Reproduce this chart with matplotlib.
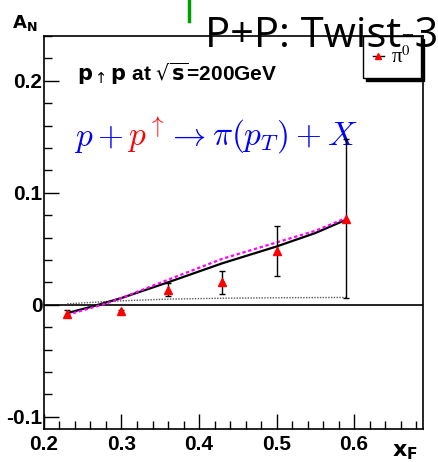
import matplotlib
matplotlib.use('Agg')
import matplotlib.pyplot as plt
from matplotlib.lines import Line2D
import numpy as np

# data points (pi0 A_N vs x_F)
xf = [0.23, 0.30, 0.36, 0.43, 0.50, 0.59]
an = [-0.008, -0.006, 0.0135, 0.020, 0.048, 0.077]
an_err = [0.003, 0.001, 0.006, 0.010, 0.022, 0.071]

# twist-3 curves
xc = [0.23, 0.26, 0.28, 0.30, 0.36, 0.43, 0.50, 0.55, 0.59]
solid = [-0.0075, -0.002, 0.002, 0.006, 0.020, 0.037, 0.052, 0.064, 0.076]
dashed = [-0.009, -0.003, 0.001, 0.006, 0.0223, 0.041, 0.0556, 0.066, 0.0774]
dotted = [0.0008, 0.002, 0.0028, 0.0035, 0.005, 0.0058, 0.0062, 0.0064, 0.0065]

xticks = [0.2, 0.3, 0.4, 0.5, 0.6]
xticklabels = ['0.2', '0.3', '0.4', '0.5', '0.6']
yticks = [-0.1, 0.0, 0.1, 0.2]
yticklabels = ['-0.1', '0', '0.1', '0.2']

bold_font = ['Liberation Sans Narrow', 'Liberation Sans', 'DejaVu Sans']

fig = plt.figure(figsize=(4.39, 4.62), dpi=100)
ax = fig.add_axes([0.1002, 0.0714, 0.8634, 0.8507])

ax.set_xlim(0.2, 0.689)
ax.set_ylim(-0.111, 0.24)

# zero line
ax.axhline(0, color='black', lw=1.2, zorder=1)

ax.plot(xc, dotted, color='0.35', lw=1.0, ls=(0, (1, 1)), zorder=2)
ax.plot(xc, solid, color='black', lw=1.6, zorder=3)
ax.plot(xc, dashed, color='magenta', lw=1.6, ls=(0, (1.5, 1.2)), zorder=3)

ax.errorbar(xf, an, yerr=an_err, fmt='^', color='red', ms=6, mec='red',
            ecolor='black', elinewidth=1.0, capsize=2, capthick=1.0, zorder=4)

ax.set_xticks(xticks)
ax.set_xticklabels(xticklabels)
ax.set_yticks(yticks)
ax.set_yticklabels(yticklabels)
ax.set_xticks(np.arange(0.22, 0.69, 0.02), minor=True)
ax.set_yticks(np.arange(-0.1, 0.241, 0.02), minor=True)
ax.tick_params(which='both', direction='in', top=False, right=False, width=1.0)
ax.tick_params(which='major', length=11)
ax.tick_params(which='minor', length=6)
ax.tick_params(axis='y', pad=1)
ax.tick_params(axis='x', pad=4)
for lab in ax.get_xticklabels() + ax.get_yticklabels():
    lab.set_family(bold_font)
    lab.set_fontweight('bold')
    lab.set_fontsize(15)
for s in ax.spines.values():
    s.set_linewidth(1.2)

# legend (ROOT style: marker with a short line)
handle = Line2D([], [], color='black', lw=1.0, marker='^', ms=5,
                mfc='red', mec='red')
leg = ax.legend([handle], ['π$^{0}$'], loc='upper right',
                bbox_to_anchor=(0.995, 1.0), borderaxespad=0,
                fancybox=False, edgecolor='black', framealpha=1,
                shadow={'color': 'black', 'alpha': 1, 'ox': 2, 'oy': -2},
                prop={'family': 'Liberation Serif', 'size': 15},
                handlelength=0.5, handletextpad=0.35, borderpad=0.5)
leg.get_frame().set_linewidth(1.0)
leg.get_texts()[0].set_math_fontfamily('stix')

# annotations
ax.text(0.088, 0.885, r'$\mathbf{p}_{\uparrow}\mathbf{p}$ at $\sqrt{\mathbf{s}}$=200GeV',
        transform=ax.transAxes, fontsize=15, fontweight='bold',
        family=bold_font, math_fontfamily='dejavusans')

t1 = ax.text(0.08, 0.72, r'$p+$', transform=ax.transAxes, fontsize=24,
             color='blue', math_fontfamily='cm')
t2 = ax.annotate(r'$p^{\uparrow}$', xy=(1, 0), xycoords=t1, xytext=(2, 0),
                 textcoords='offset points', fontsize=24, color='red',
                 math_fontfamily='cm', va='bottom')
ax.annotate(r'$\rightarrow\pi(p_T)+X$', xy=(1, 0), xycoords=t2, xytext=(2, 0),
            textcoords='offset points', fontsize=24, color='blue',
            math_fontfamily='cm', va='bottom')

fig.text(0.027, 0.94, r'$\mathbf{A}_\mathbf{N}$', fontsize=13, math_fontfamily='dejavusans')
fig.text(0.893, 0.012, r'$\mathbf{x}_\mathbf{F}$', fontsize=16, math_fontfamily='dejavusans')

fig.text(0.467, 0.898, 'P+P: Twist-3', fontsize=30, family='Open Sans')
fig.add_artist(Line2D([0.43, 0.43], [0.955, 1.0], color='#00a000', lw=2.5))

fig.savefig('out.png', dpi=100)
